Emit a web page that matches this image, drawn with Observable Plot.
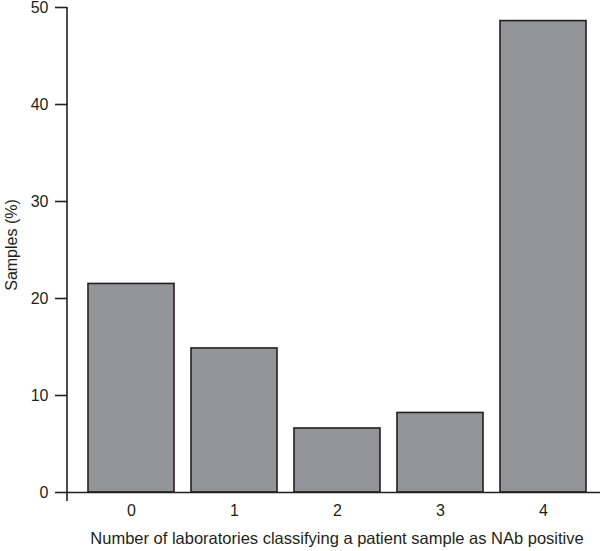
<!DOCTYPE html>
<html><head><meta charset="utf-8">
<script src="https://cdn.jsdelivr.net/npm/d3@7"></script>
<script src="https://cdn.jsdelivr.net/npm/@observablehq/plot@0.6"></script>
<style>body{margin:0;background:#fff;} svg{font-family:"Liberation Sans",Arial,sans-serif;}</style>
</head><body><div id="chart"></div>
<script>
const categories = ["0", "1", "2", "3", "4"];
const values = [21.5, 14.85, 6.6, 8.2, 48.6];
const yTicks = [0, 10, 20, 30, 40, 50];
const xLabel = "Number of laboratories classifying a patient sample as NAb positive";
const yLabel = "Samples (%)";

const data = categories.map((c, i) => ({cat: c, val: values[i]}));
const ink = "#231f20";

const plot = Plot.plot({
  width: 600, height: 551,
  marginTop: 7, marginBottom: 59, marginLeft: 67, marginRight: 0,
  style: {fontFamily: '"Liberation Sans", Arial, sans-serif', fontSize: "16px", color: ink, background: "#fff"},
  x: {domain: categories, paddingInner: 0.165, paddingOuter: 0.162, align: 0.586},
  y: {domain: [0, 50]},
  marks: [
    Plot.barY(data, {x: "cat", y: "val", fill: "#939598", stroke: ink, strokeWidth: 1.6}),
    Plot.ruleY([0], {stroke: ink, strokeWidth: 1.6}),
    Plot.axisY(yTicks, {anchor: "left", tickSize: 12, tickPadding: 7, fontSize: 16, stroke: ink, strokeWidth: 1.6, fill: ink,
      label: null}),
    Plot.text([yLabel], {frameAnchor: "left", textAnchor: "middle", rotate: -90, dx: -56, dy: -5, fontSize: 16, fill: ink, text: d => d}),
    Plot.axisX({anchor: "bottom", tickSize: 0, tickPadding: 12, fontSize: 16, fill: ink, label: null}),
    Plot.text([xLabel], {frameAnchor: "bottom", dy: 51, dx: 3, fontSize: 16.5, fill: ink, text: d => d})
  ]
});
document.getElementById("chart").appendChild(plot);
// vertical y-axis line, extended slightly below the baseline
const ys = plot.scale("y");
d3.select(plot).append("line")
  .attr("x1", 67).attr("x2", 67)
  .attr("y1", ys.apply(50)).attr("y2", ys.apply(0) + 9)
  .attr("stroke", ink).attr("stroke-width", 1.6);
</script></body></html>
